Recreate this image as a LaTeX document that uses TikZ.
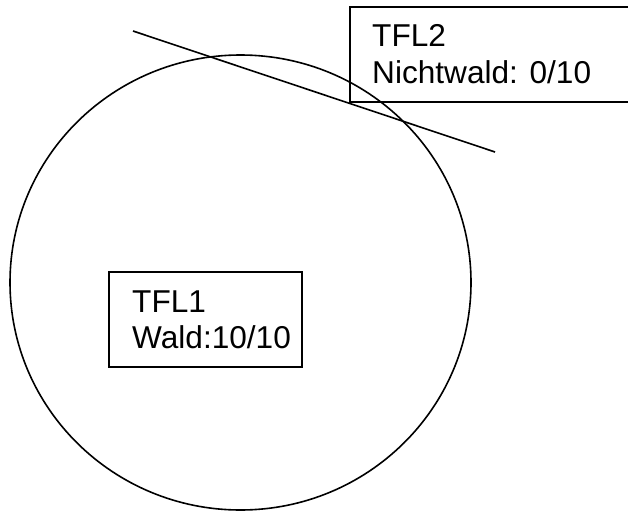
\documentclass[tikz,border=0pt]{standalone}
\usepackage{fontspec}
\setmainfont{Liberation Sans}
\begin{document}
\begin{tikzpicture}[x=1pt,y=-1pt,
  stroke/.style={line width=1.6pt, draw=black},
  lbl/.style={anchor=base west, inner sep=0pt, font=\fontsize{31.6}{36}\selectfont}]
\useasboundingbox (0,0) rectangle (628,511);
\begin{scope}
\clip (0,0) rectangle (628,511);
% circle
\draw[stroke] (240.5,282.5) ellipse [x radius=230.5, y radius=227.5];
% line
\coordinate (la) at (133,31);
\coordinate (lb) at (495,152);
\draw[stroke] (la) -- (lb);
% box TFL2 (extends past the right edge)
\draw[stroke] (350,7) rectangle (640,102);
\node[lbl] (tfl2) at (372,47) {TFL2};
\node[lbl] (nw) at (372,83) {Nichtwald: 0/10};
% box TFL1
\draw[stroke] (109,272) rectangle (302,367);
\node[lbl] (tfl1) at (132,312) {TFL1};
\node[lbl] (wald) at (132,348) {Wald:10/10};
\end{scope}
\end{tikzpicture}
\end{document}
